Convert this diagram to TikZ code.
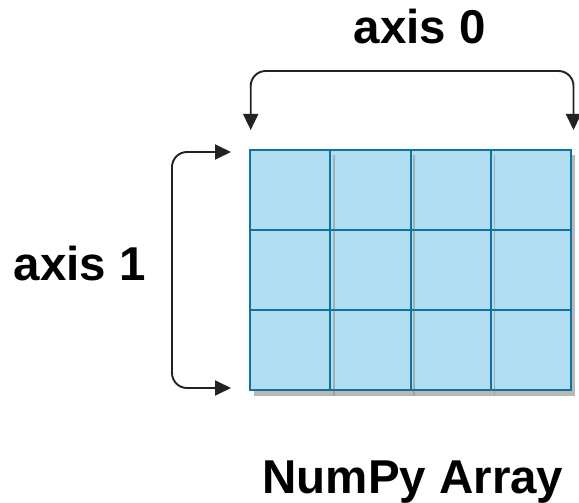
\documentclass[tikz,border=0pt]{standalone}
\usepackage{fontspec}
\setmainfont{Liberation Sans}
\usetikzlibrary{arrows.meta}
\definecolor{cellfill}{HTML}{B1DDF0}
\definecolor{cellborder}{HTML}{10739E}
\definecolor{shadowgray}{HTML}{B8B8B8}
\definecolor{bracketgray}{HTML}{222222}
\begin{document}
\begin{tikzpicture}[x=1pt,y=-1pt,
  cell/.style={draw=cellborder, fill=cellfill, line width=2pt,
    minimum width=80.3pt, minimum height=80pt, inner sep=0pt, outer sep=0pt,
    anchor=north west},
  cellshadow/.style={fill=shadowgray},
  seam/.style={draw=shadowgray!80!black, line width=1.5pt, opacity=0.6},
  bracket/.style={draw=bracketgray, line width=1.9pt, rounded corners=15pt,
    {Triangle[length=16pt,width=15pt]}-{Triangle[length=16pt,width=15pt]}},
  title/.style={font=\fontsize{47.5}{52}\selectfont\bfseries, anchor=base}
]
\useasboundingbox (0,0) rectangle (579,503);

% drop shadow behind the whole grid
\fill[cellshadow] (254,155) rectangle (575,396);

% the 3 x 4 grid of cells
\foreach \r in {1,2,3}{
  \foreach \c in {1,2,3,4}{
    \node[cell] (c\r\c) at ({250+(\c-1)*80.3},{150+(\r-1)*80}) {};
  }
}

% shadows of the inner column borders
\foreach \c in {2,3,4}{
  \draw[seam] ([shift={(3.5,5)}]c1\c.north west) -- ([shift={(3.5,6)}]c3\c.south west);
}
\foreach \c in {1,2,3,4}{
  \node[cell, fill=none] at (c1\c.north west) {};
  \node[cell, fill=none] at (c2\c.north west) {};
  \node[cell, fill=none] at (c3\c.north west) {};
}

% axis 0 bracket over the top
\coordinate (a0l) at (250.7,130);
\coordinate (a0r) at (573.5,130);
\coordinate (a0lt) at (250.7,71);
\coordinate (a0rt) at (573.5,71);
\draw[bracket] (a0l) -- (a0lt) -- (a0rt) -- (a0r);

% axis 1 bracket on the left
\coordinate (a1t) at (231,152);
\coordinate (a1b) at (231,388);
\coordinate (a1tl) at (172,152);
\coordinate (a1bl) at (172,388);
\draw[bracket] (a1t) -- (a1tl) -- (a1bl) -- (a1b);

% labels
\node[title] (lab0) at (420,44) {axis 0};
\node[title] (lab1) at (80,280) {axis 1};
\node[title] (labn) at (413,493) {NumPy Array};
\end{tikzpicture}
\end{document}
